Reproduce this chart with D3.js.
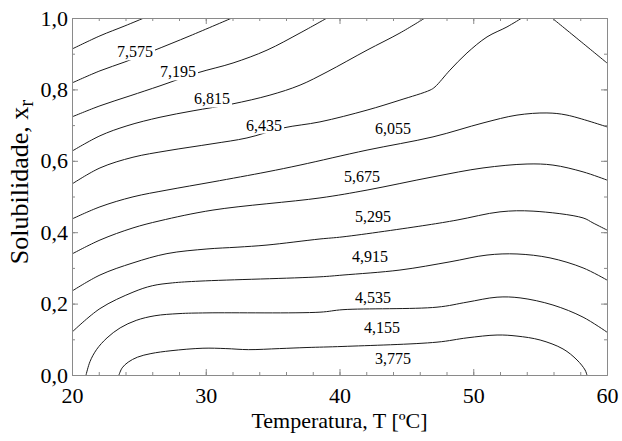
<!DOCTYPE html>
<html>
<head>
<meta charset="utf-8">
<script src="https://cdn.jsdelivr.net/npm/d3@7"></script>
<style>
    body { margin: 0; background: #fff; }
    text { font-family: "Liberation Serif", "Times New Roman", serif; fill: #000; }
</style>
</head>
<body>
<svg id="chart" width="622" height="441"></svg>
<script>
'use strict';

// tick values
var xTicks = [ 20, 30, 40, 50, 60 ],
    xMinorTicks = d3.range( 20, 61, 2 ),
    yTicks = [ 0, 0.2, 0.4, 0.6, 0.8, 1.0 ],
    yMinorTicks = d3.range( 0, 11 ).map(function( i ){ return i / 10; });

// contour lines, [ T, x_r ] (null = break)
var line7955 = [ [20,0.913], [22.09,0.950], [23.96,0.978], [25.38,1.0] ];
var line7575 = [ [20,0.818], [22.09,0.852], [23.96,0.877], [26.06,0.908], [28.82,0.950], [31.96,1.0] ];
var line7195 = [ [20,0.723], [22.09,0.754], [24.34,0.782], [26.58,0.810], [29.35,0.846], [32.04,0.874],
                 [34.58,0.910], [37.05,0.958], [39.07,1.0] ];
var line6815 = [ [20,0.627], [22.09,0.670], [24.11,0.698], [26.58,0.722], [29.05,0.740], [31.96,0.759],
                 [34.80,0.784], [37.05,0.812], [39.07,0.849], [42.06,0.910], [44.52,0.958], [46.39,1.0] ];
var line6435 = [ [20,0.535], [22.09,0.580], [24.56,0.610], [27.10,0.628], [30.54,0.648], [33.08,0.664],
                 [35.78,0.692], [38.54,0.709], [42.06,0.742], [44.52,0.770], [46.77,0.798], [47.14,0.807],
                 [48.26,0.854], [49.53,0.902], [51.03,0.947], [52.52,0.975], [53.64,1.0],
                 null,
                 [55.89,1.0], [57.98,0.936], [60,0.874] ];
var line6055 = [ [20,0.437], [22.09,0.471], [24.56,0.499], [27.10,0.518], [30.54,0.541], [34.58,0.569],
                 [37.05,0.588], [42.06,0.630], [46.99,0.667], [50.73,0.706], [53.27,0.728], [55.51,0.734],
                 [57.01,0.728], [60,0.695] ];
var line5675 = [ [20,0.339], [22.09,0.378], [24.56,0.412], [26.58,0.432], [30.54,0.462], [38.54,0.496],
                 [42.06,0.518], [46.99,0.555], [50.73,0.580], [54.02,0.591], [55.96,0.588], [58.21,0.569],
                 [60,0.546] ];
var line5295 = [ [20,0.235], [22.09,0.280], [24.56,0.314], [27.10,0.340], [30.09,0.353], [32.34,0.358],
                 [34.58,0.364], [38.54,0.381], [40.26,0.387], [46.54,0.420], [48.79,0.434], [52.00,0.457],
                 [54.47,0.459], [58.21,0.440], [58.95,0.426], [60,0.406] ];
var line4915 = [ [20,0.120], [22.09,0.186], [24.56,0.232], [26.0,0.250], [27.5,0.258], [29.57,0.263],
                 [38.54,0.275], [40.26,0.280], [44.52,0.294], [48.26,0.317], [51.03,0.336], [53.27,0.339],
                 [55.74,0.328], [58.21,0.300], [60,0.266] ];
var line4535 = [ [21.05,0], [21.35,0.038], [21.85,0.072], [22.62,0.104], [23.6,0.132], [24.8,0.153],
                 [26.2,0.166], [28.0,0.172], [30.09,0.174], [38.54,0.176], [40.26,0.183], [47.29,0.190],
                 [49.53,0.204], [51.78,0.218], [53.50,0.216], [55.96,0.196], [58.21,0.162], [60,0.120] ];
var line4155 = [ [23.51,0], [23.75,0.020], [24.2,0.036], [24.9,0.050], [25.9,0.060], [27.4,0.068],
                 [29.79,0.075], [31.5,0.074], [33.2,0.071], [35.5,0.074], [37.57,0.077], [40.26,0.080],
                 [47.29,0.092], [49.53,0.104], [51.78,0.112], [53.27,0.109], [55.0,0.098], [56.71,0.073],
                 [57.76,0.042], [58.36,0.014], [58.50,0] ];

var contourLines = [ line7955, line7575, line7195, line6815, line6435, line6055,
                     line5675, line5295, line4915, line4535, line4155 ];

// level labels and where they sit
var labelTexts = [ '7,575', '7,195', '6,815', '6,435', '6,055', '5,675', '5,295', '4,915', '4,535', '4,155', '3,775' ],
    labelT     = [ 24.71, 27.93, 30.47, 34.36, 44.0, 41.68, 42.5, 42.28, 42.5, 43.18, 44.0 ],
    labelX     = [ 0.905, 0.849, 0.773, 0.700, 0.689, 0.555, 0.443, 0.331, 0.218, 0.132, 0.045 ];

var box = { left: 72, right: 607, top: 18, bottom: 375 };

var svg = d3.select( '#chart' );

var x = d3.scaleLinear().domain( [20, 60] ).range( [box.left, box.right] ),
    y = d3.scaleLinear().domain( [0, 1] ).range( [box.bottom, box.top] );

function comma( d ){
    return d3.format( '.1f' )( d ).replace( '.', ',' );
}

svg.append( 'defs' ).append( 'clipPath' )
    .attr( 'id', 'plotClip' )
    .append( 'rect' )
    .attr( 'x', box.left )
    .attr( 'y', box.top )
    .attr( 'width', box.right - box.left )
    .attr( 'height', box.bottom - box.top );

// contour lines
var line = d3.line()
    .defined(function( d ){ return d !== null; })
    .x(function( d ){ return x( d[0] ); })
    .y(function( d ){ return y( d[1] ); })
    .curve( d3.curveCatmullRom.alpha( 0.5 ) );

svg.append( 'g' )
    .attr( 'clip-path', 'url(#plotClip)' )
    .selectAll( 'path' )
    .data( contourLines )
    .enter().append( 'path' )
    .attr( 'd', line )
    .attr( 'fill', 'none' )
    .attr( 'stroke', '#1a1a1a' )
    .attr( 'stroke-width', 1 );

// labels, masked with white
var labels = svg.append( 'g' )
    .selectAll( 'g' )
    .data( labelTexts )
    .enter().append( 'g' );

labels.append( 'text' )
    .attr( 'x', function( d, i ){ return x( labelT[i] ); })
    .attr( 'y', function( d, i ){ return y( labelX[i] ); })
    .attr( 'dy', '0.34em' )
    .attr( 'text-anchor', 'middle' )
    .style( 'font-size', '16px' )
    .text(function( d ){ return d; });

labels.each(function(){
    var g = d3.select( this ),
        bb = g.select( 'text' ).node().getBBox();
    g.insert( 'rect', ':first-child' )
        .attr( 'x', bb.x - 2 )
        .attr( 'y', bb.y + 1 )
        .attr( 'width', bb.width + 4 )
        .attr( 'height', bb.height - 1 )
        .attr( 'fill', '#fff' );
});

// axes
var axisColor = '#8a8a8a';

function styleAxis( g, labelled ){
    g.selectAll( '.domain' ).attr( 'stroke', axisColor );
    g.selectAll( '.tick line' ).attr( 'stroke', axisColor );
    if ( labelled ){
        g.selectAll( '.tick text' )
            .attr( 'fill', '#000' )
            .style( 'font-size', '22px' )
            .style( 'font-family', '"Liberation Serif", "Times New Roman", serif' );
    } else {
        g.selectAll( '.tick text' ).remove();
    }
}

// minor ticks first
svg.append( 'g' ).attr( 'transform', 'translate(0,' + box.bottom + ')' )
    .call( d3.axisBottom( x ).tickValues( xMinorTicks ).tickSize( -3 ).tickSizeOuter( 0 ).tickFormat( '' ) )
    .call( styleAxis, false );
svg.append( 'g' ).attr( 'transform', 'translate(0,' + box.top + ')' )
    .call( d3.axisTop( x ).tickValues( xMinorTicks ).tickSize( -3 ).tickSizeOuter( 0 ).tickFormat( '' ) )
    .call( styleAxis, false );
svg.append( 'g' ).attr( 'transform', 'translate(' + box.left + ',0)' )
    .call( d3.axisLeft( y ).tickValues( yMinorTicks ).tickSize( -3 ).tickSizeOuter( 0 ).tickFormat( '' ) )
    .call( styleAxis, false );
svg.append( 'g' ).attr( 'transform', 'translate(' + box.right + ',0)' )
    .call( d3.axisRight( y ).tickValues( yMinorTicks ).tickSize( -3 ).tickSizeOuter( 0 ).tickFormat( '' ) )
    .call( styleAxis, false );

// major ticks
svg.append( 'g' ).attr( 'transform', 'translate(0,' + box.bottom + ')' )
    .call( d3.axisBottom( x ).tickValues( xTicks ).tickSize( -6 ).tickSizeOuter( 0 ).tickPadding( 12 ).tickFormat( d3.format( 'd' ) ) )
    .call( styleAxis, true );
svg.append( 'g' ).attr( 'transform', 'translate(0,' + box.top + ')' )
    .call( d3.axisTop( x ).tickValues( xTicks ).tickSize( -6 ).tickSizeOuter( 0 ).tickFormat( '' ) )
    .call( styleAxis, false );
svg.append( 'g' ).attr( 'transform', 'translate(' + box.left + ',0)' )
    .call( d3.axisLeft( y ).tickValues( yTicks ).tickSize( -6 ).tickSizeOuter( 0 ).tickPadding( 4 ).tickFormat( comma ) )
    .call( styleAxis, true );
svg.append( 'g' ).attr( 'transform', 'translate(' + box.right + ',0)' )
    .call( d3.axisRight( y ).tickValues( yTicks ).tickSize( -6 ).tickSizeOuter( 0 ).tickFormat( '' ) )
    .call( styleAxis, false );

// axis titles
svg.append( 'text' )
    .attr( 'x', ( box.left + box.right ) / 2 )
    .attr( 'y', 428 )
    .attr( 'text-anchor', 'middle' )
    .style( 'font-size', '22px' )
    .text( 'Temperatura, T [ºC]' );

var yTitle = svg.append( 'text' )
    .attr( 'transform', 'translate(28,182) rotate(-90)' )
    .attr( 'text-anchor', 'middle' )
    .style( 'font-size', '26px' );
yTitle.append( 'tspan' ).text( 'Solubilidade, x' );
yTitle.append( 'tspan' ).attr( 'dy', '0.22em' ).style( 'font-size', '21px' ).text( 'r' );
</script>
</body>
</html>
